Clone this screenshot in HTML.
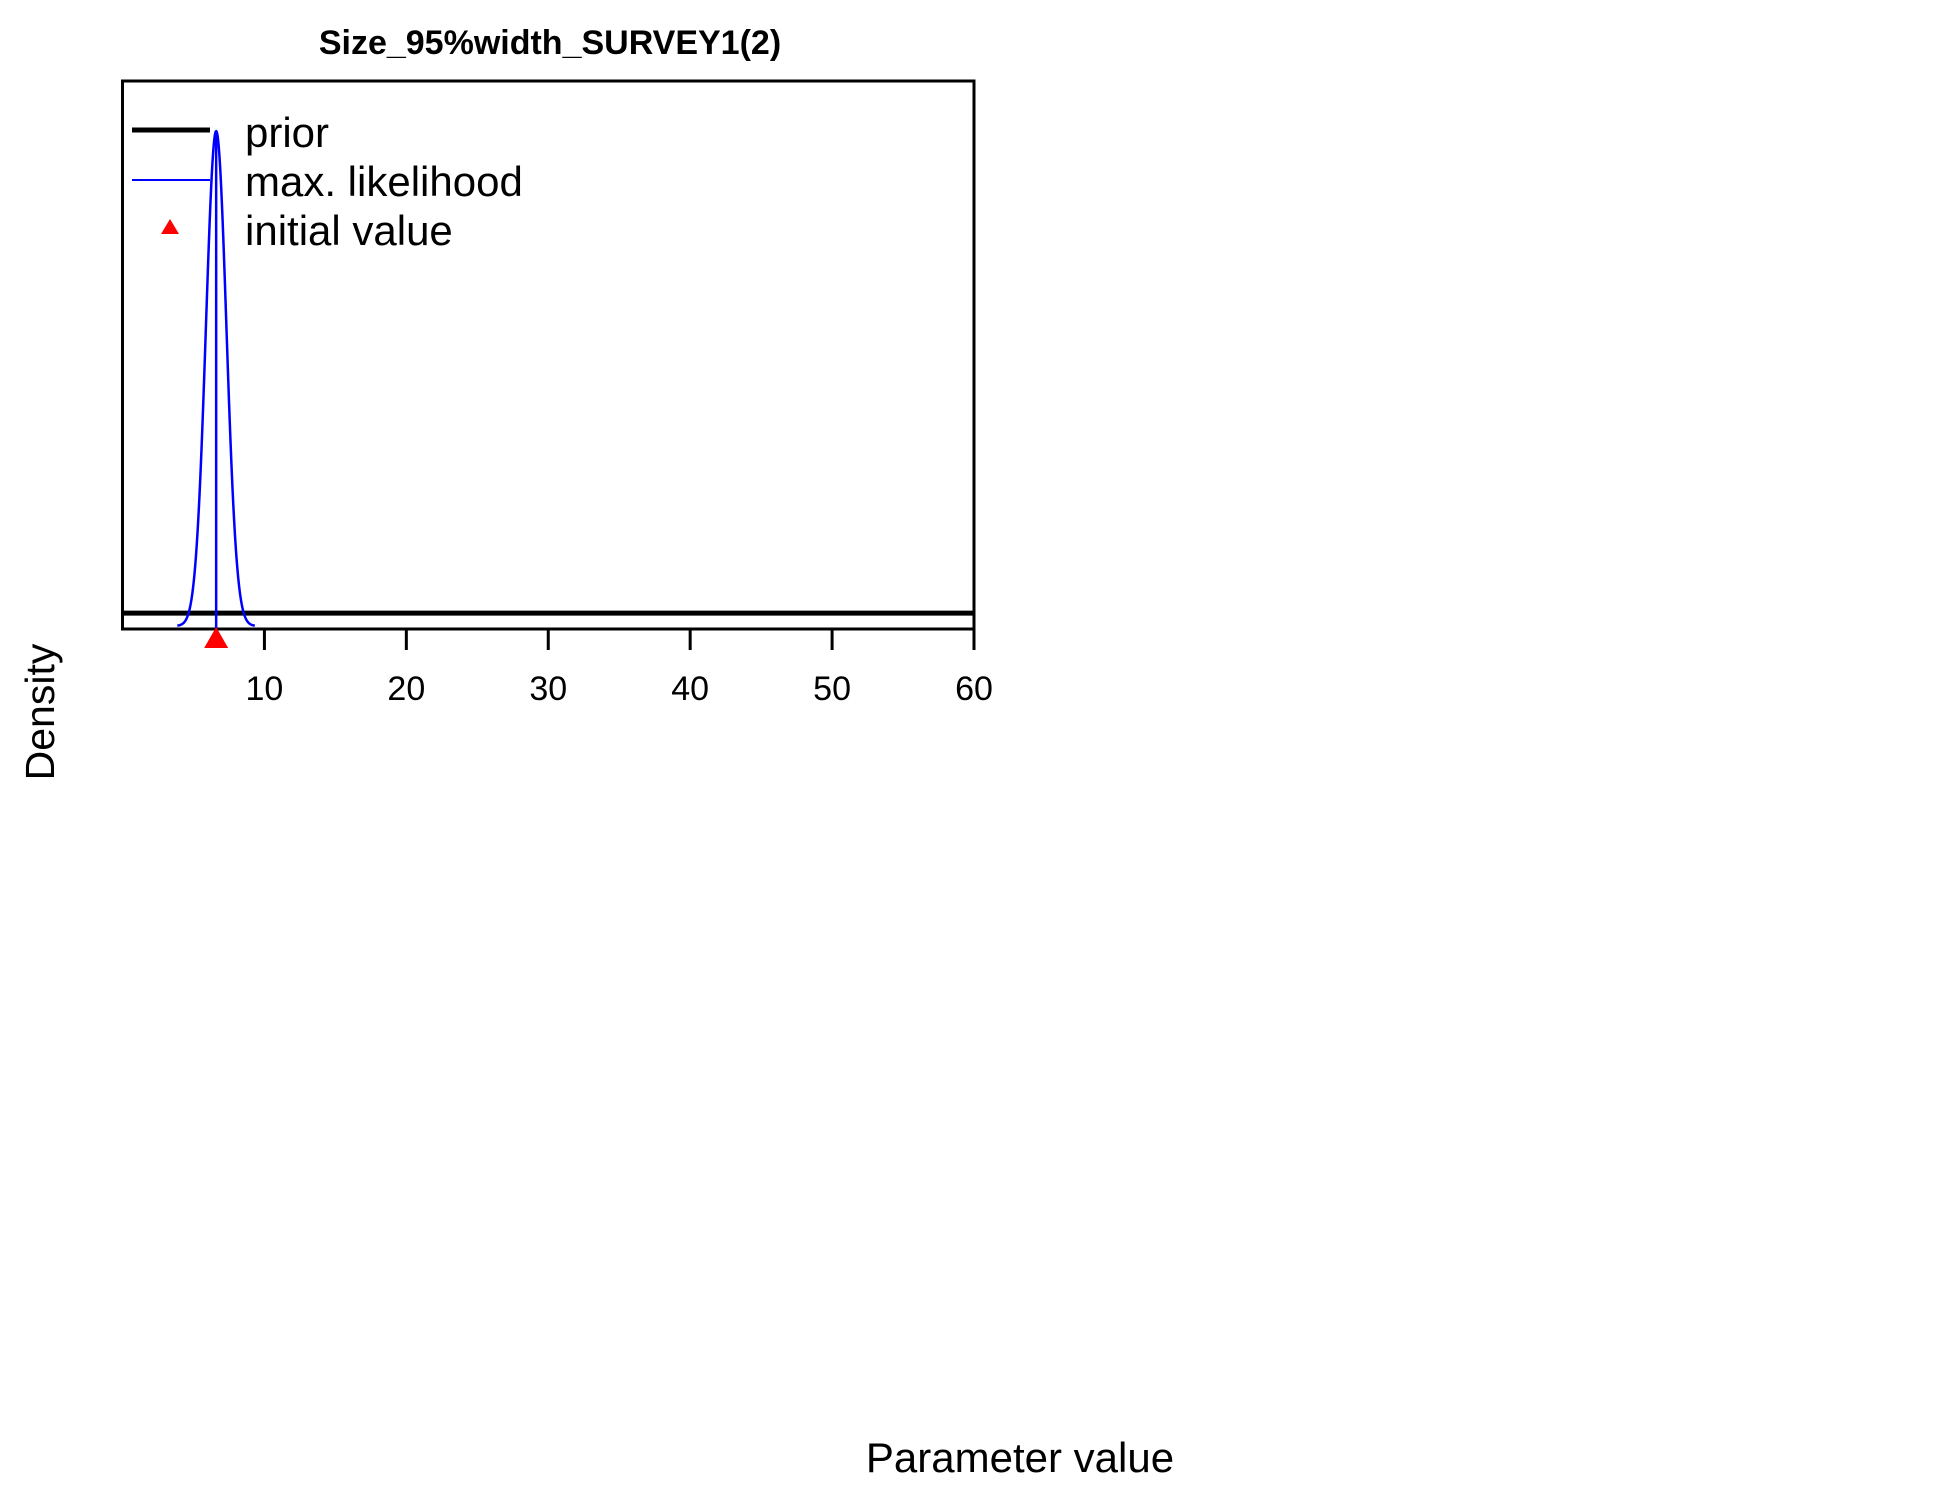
<!DOCTYPE html>
<html><head><meta charset="utf-8"><style>
body{margin:0;background:#fff;}
svg{display:block;font-family:"Liberation Sans",Arial,sans-serif;}
</style></head><body>
<svg id="chart" width="1950" height="1500" viewBox="0 0 1950 1500">
<text x="550" y="54" text-anchor="middle" font-size="34" font-weight="bold">Size_95%width_SURVEY1(2)</text>
<rect x="122.5" y="81" width="851.5" height="548" fill="none" stroke="#000" stroke-width="3"/>
<g id="xaxis"></g>
<g id="series"></g>
<text x="54" y="712" transform="rotate(-90 54 712)" text-anchor="middle" font-size="41">Density</text>
<text x="1020" y="1472" text-anchor="middle" font-size="42">Parameter value</text>
<g>
<line x1="132" y1="130" x2="210" y2="130" stroke="#000" stroke-width="5"/>
<text x="245" y="147" font-size="42">prior</text>
<line x1="132" y1="180" x2="210" y2="180" stroke="#0000ff" stroke-width="2"/>
<text x="245" y="196" font-size="42">max. likelihood</text>
<polygon points="170,219 161,234 179,234" fill="#ff0000"/>
<text x="245" y="245" font-size="42">initial value</text>
</g>
</svg>
<script>
const xTicks=[10,20,30,40,50,60];
const priorRange=[0,60];
const mlMean=[6.6];
const mlSd=[0.72];
const initialValue=[6.6];
const NS='http://www.w3.org/2000/svg';
function xs(v){return 122.5+(v-0)/(60-0)*851.5;}
function ys(d){return 626-d*893;}
const ax=document.getElementById('xaxis');
const ser=document.getElementById('series');
function mk(t,a,p){const e=document.createElementNS(NS,t);for(const k in a)e.setAttribute(k,a[k]);p.appendChild(e);return e;}
xTicks.forEach(t=>{
 const l=mk('line',{x1:xs(t),x2:xs(t),y1:629,y2:650,stroke:'#000','stroke-width':3},ax);
 
 
 const tx=mk('text',{x:xs(t),y:700,'text-anchor':'middle','font-size':34},ax);
 tx.textContent=t;
 
 
});
const pd=1/(priorRange[1]-priorRange[0]);
const pl=mk('line',{x1:xs(priorRange[0]),x2:xs(priorRange[1]),y1:ys(pd)+2,y2:ys(pd)+2,stroke:'#000','stroke-width':5},ser);


const m=mlMean[0],s=mlSd[0];let pts=[];
for(let x=m-3.8*s;x<=m+3.8*s;x+=0.02){const d=Math.exp(-0.5*((x-m)/s)**2)/(s*Math.sqrt(2*Math.PI));pts.push(xs(x).toFixed(2)+','+ys(d).toFixed(2));}
const cp=mk('polyline',{points:pts.join(' '),fill:'none',stroke:'#0000ff','stroke-width':2.5},ser);


const peak=1/(s*Math.sqrt(2*Math.PI));
const vl=mk('line',{x1:xs(m),x2:xs(m),y1:ys(peak),y2:629,stroke:'#0000ff','stroke-width':2.5},ser);


const ix=xs(initialValue[0]);
const tri=mk('polygon',{points:`${ix},627 ${ix-12},648 ${ix+12},648`,fill:'#ff0000'},ser);


</script>
</body></html>
